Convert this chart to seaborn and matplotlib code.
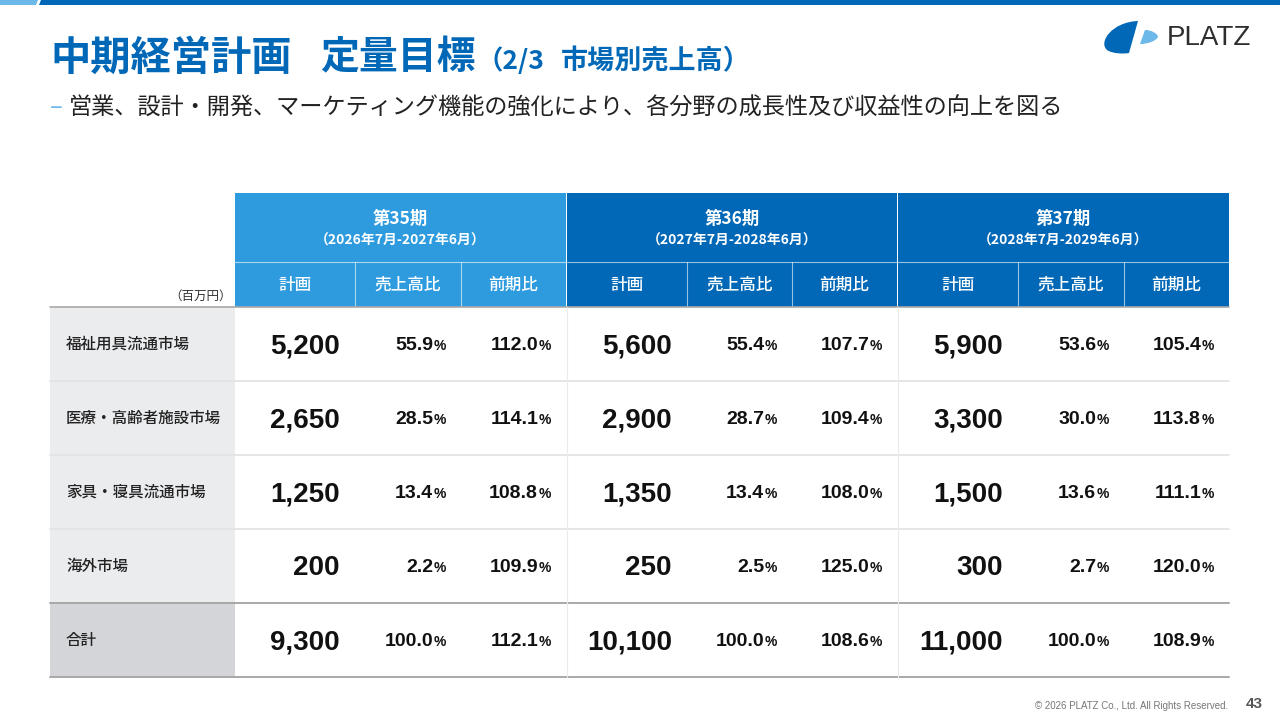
import matplotlib
matplotlib.use("Agg")
import matplotlib.pyplot as plt
from matplotlib.patches import Rectangle, Polygon, PathPatch
from matplotlib.path import Path
import seaborn as sns

# ---- data ----
markets = ["福祉用具流通市場", "医療・高齢者施設市場", "家具・寝具流通市場", "海外市場", "合計"]
periods = ["第35期", "第36期", "第37期"]
period_ranges = ["（2026年7月-2027年6月）", "（2027年7月-2028年6月）", "（2028年7月-2029年6月）"]
sub_headers = ["計画", "売上高比", "前期比"]

plan_35 = [5200, 2650, 1250, 200, 9300]
share_35 = [55.9, 28.5, 13.4, 2.2, 100.0]
yoy_35 = [112.0, 114.1, 108.8, 109.9, 112.1]

plan_36 = [5600, 2900, 1350, 250, 10100]
share_36 = [55.4, 28.7, 13.4, 2.5, 100.0]
yoy_36 = [107.7, 109.4, 108.0, 125.0, 108.6]

plan_37 = [5900, 3300, 1500, 300, 11000]
share_37 = [53.6, 30.0, 13.6, 2.7, 100.0]
yoy_37 = [105.4, 113.8, 111.1, 120.0, 108.9]

title_main = "中期経営計画"
title_sub = "定量目標"
title_note = "（2/3"
title_note2 = "市場別売上高）"
subtitle = "営業、設計・開発、マーケティング機能の強化により、各分野の成長性及び収益性の向上を図る"
unit_label = "（百万円）"
footer = "© 2026 PLATZ Co., Ltd. All Rights Reserved."
page_no = "43"

# ---- style ----
sns.set_theme(style="white")
JP = ["Noto Sans CJK JP", "DejaVu Sans"]
NUM = ["Liberation Sans", "DejaVu Sans"]
plt.rcParams["font.family"] = JP

BLUE = "#0068B7"
LIGHT = "#2E9BDE"
PALE = "#6CB8E9"

fig = plt.figure(figsize=(12.8, 7.2), dpi=100)
ax = fig.add_axes([0, 0, 1, 1])
ax.set_xlim(0, 1280)
ax.set_ylim(720, 0)
ax.axis("off")
renderer = fig.canvas.get_renderer()

# top bar
ax.add_patch(Polygon([(0, 0), (38, 0), (36, 5), (0, 5)], color=PALE, lw=0))
ax.add_patch(Polygon([(41, 0), (1280, 0), (1280, 5), (39, 5)], color=BLUE, lw=0))

# title
ax.text(50, 58, title_main, fontsize=29, fontweight="bold", color=BLUE, va="center")
ax.text(320, 58, title_sub, fontsize=28, fontweight="bold", color=BLUE, va="center")
ax.text(477, 61, title_note, fontsize=19, fontweight="bold", color=BLUE, va="center")
ax.text(561, 61, title_note2, fontsize=19.5, fontweight="bold", color=BLUE, va="center")
ax.text(50, 108, "–", fontsize=17, color=PALE, va="center")
ax.text(69, 108, subtitle, fontsize=16.7, color="#222222", va="center")

# logo
dark = Path([(1138, 21), (1112, 22), (1098, 42), (1107, 50),
             (1113, 54), (1124, 54), (1129, 53), (1138, 21)],
            [Path.MOVETO, Path.CURVE4, Path.CURVE4, Path.CURVE4,
             Path.CURVE4, Path.CURVE4, Path.CURVE4, Path.CLOSEPOLY])
ax.add_patch(PathPatch(dark, color=BLUE, lw=0))
lightp = Path([(1145, 30), (1152, 30), (1158, 34), (1158, 37),
               (1156, 41), (1148, 44), (1140, 44), (1145, 30)],
              [Path.MOVETO, Path.CURVE4, Path.CURVE4, Path.CURVE4,
               Path.CURVE4, Path.CURVE4, Path.CURVE4, Path.CLOSEPOLY])
ax.add_patch(PathPatch(lightp, color=PALE, lw=0))
ax.text(1167, 38, "PLATZ", fontsize=20, family=NUM, color="#2E2E2E", va="center")

# ---- table layout ----
label_x0, label_x1 = 50, 235
group_edges = [[235, 355, 461, 566], [567, 687, 792, 897], [898, 1018, 1124, 1229]]
hdr_top, hdr_mid, hdr_bot = 193, 262, 307
row_h = 74
group_colors = [LIGHT, BLUE, BLUE]

for g, edges in enumerate(group_edges):
    ax.add_patch(Rectangle((edges[0], hdr_top), edges[3] - edges[0], hdr_bot - hdr_top,
                           color=group_colors[g], lw=0))
    cx = (edges[0] + edges[3]) / 2
    ax.text(cx, 219, periods[g], fontsize=12.5, fontweight="bold", color="white",
            ha="center", va="center")
    ax.text(cx, 241, period_ranges[g], fontsize=10, fontweight="bold", color="white",
            ha="center", va="center")
    ax.plot([edges[0], edges[3]], [hdr_mid, hdr_mid], color="white", alpha=0.6, lw=0.8)
    for k in range(3):
        ax.text((edges[k] + edges[k + 1]) / 2, 285, sub_headers[k], fontsize=12,
                fontweight="medium", color="white", ha="center", va="center")
        if k > 0:
            ax.plot([edges[k], edges[k]], [hdr_mid, hdr_bot], color="white", alpha=0.6, lw=0.8)

ax.text(232, 296, unit_label, fontsize=9, color="#333333", ha="right", va="center")

n = len(markets)
for i in range(n):
    y0 = hdr_bot + i * row_h
    bg = "#D3D5D9" if i == n - 1 else "#EBECEE"
    ax.add_patch(Rectangle((label_x0, y0), label_x1 - label_x0, row_h, color=bg, lw=0))
    ax.text(66, y0 + row_h / 2, markets[i], fontsize=11.2, fontweight="medium",
            color="#222222", va="center")
    if 0 < i < n - 1:
        ax.plot([label_x0, 1229], [y0, y0], color="#E2E2E2", lw=1.2)

ax.plot([label_x0, 1229], [hdr_bot, hdr_bot], color="#A8A8A8", lw=1.2)
ax.plot([label_x0, 1229], [hdr_bot + 4 * row_h, hdr_bot + 4 * row_h], color="#A8A8A8", lw=1.4)
ax.plot([label_x0, 1229], [hdr_bot + 5 * row_h, hdr_bot + 5 * row_h], color="#A8A8A8", lw=1.4)
for xv in [566.5, 897.5]:
    ax.plot([xv, xv], [hdr_bot, hdr_bot + 5 * row_h], color="#EBEBEB", lw=0.8)


def pct_text(xr, yc, value):
    t = ax.text(xr, yc + 2, "%", fontsize=10, fontweight="bold", family=NUM,
                color="#111111", ha="right", va="center")
    bb = t.get_window_extent(renderer)
    ax.text(bb.x0 - 0.5, yc + 1, f"{value:.1f}", fontsize=14, fontweight="bold", family=NUM,
            color="#111111", ha="right", va="center")


series = [(plan_35, share_35, yoy_35), (plan_36, share_36, yoy_36), (plan_37, share_37, yoy_37)]
for g, (plan, share, yoy) in enumerate(series):
    edges = group_edges[g]
    for i in range(n):
        yc = hdr_bot + i * row_h + row_h / 2
        ax.text(edges[1] - 15, yc + 2, f"{plan[i]:,}", fontsize=20, fontweight="bold",
                family=NUM, color="#111111", ha="right", va="center")
        pct_text(edges[2] - 15, yc, share[i])
        pct_text(edges[3] - 15, yc, yoy[i])

# footer
ax.text(1228, 706, footer, fontsize=7, family=NUM, color="#777777", ha="right", va="center")
ax.text(1263, 704, page_no, fontsize=11, fontweight="bold", family=NUM, color="#555555",
        ha="right", va="center")

fig.savefig("out.png", dpi=100)
